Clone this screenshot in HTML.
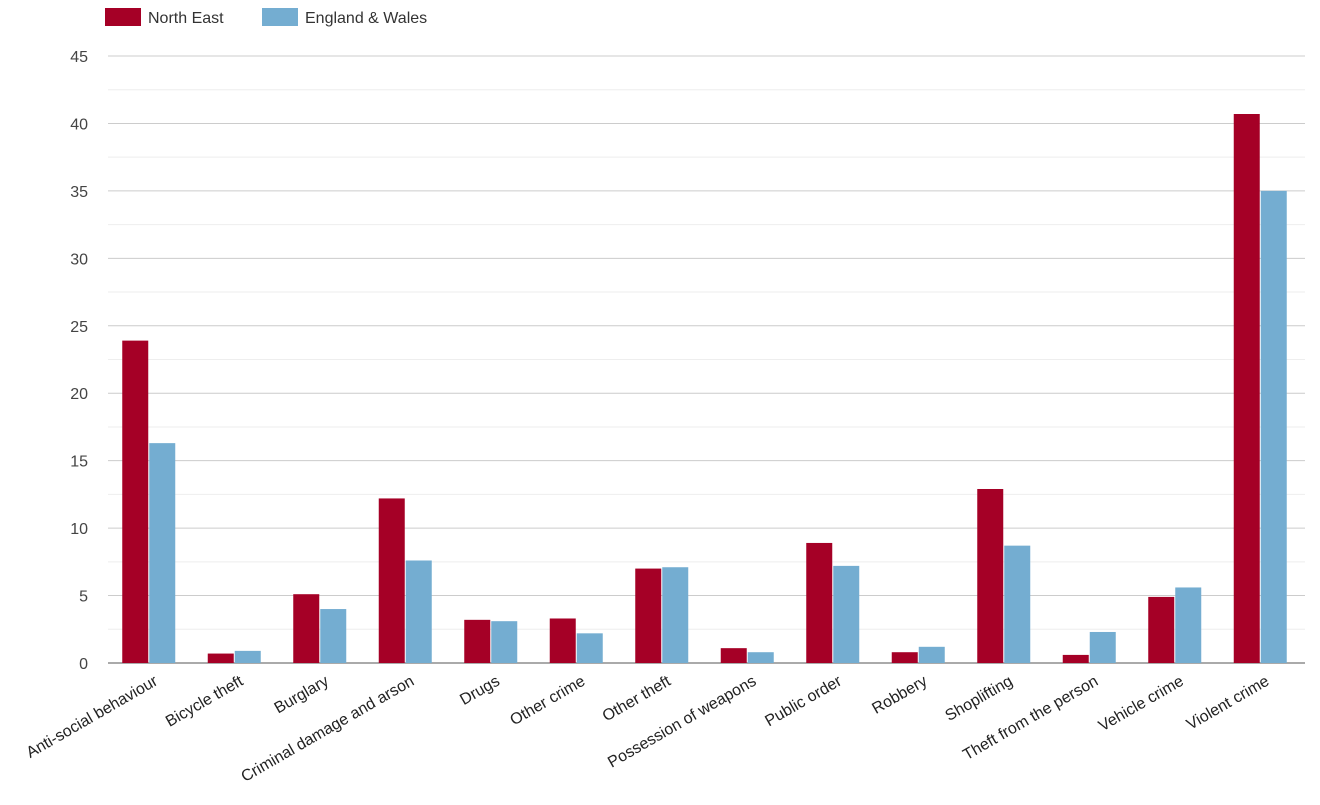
<!DOCTYPE html>
<html><head><meta charset="utf-8"><style>
body{margin:0;background:#fff;font-family:"Liberation Sans",sans-serif}
</style></head><body>
<svg id="chart" width="1320" height="800" xmlns="http://www.w3.org/2000/svg">
<g>
<rect x="105" y="8" width="36" height="18" fill="#a50026"/>
<text x="148" y="23" font-size="16" fill="#333">North East</text>
<rect x="262" y="8" width="36" height="18" fill="#74add1"/>
<text x="305" y="23" font-size="16" fill="#333">England &amp; Wales</text>
</g>
<g id="grid"></g><g id="bars"></g><g id="labels"></g>
</svg>
<script>
const categories=["Anti-social behaviour","Bicycle theft","Burglary","Criminal damage and arson","Drugs","Other crime","Other theft","Possession of weapons","Public order","Robbery","Shoplifting","Theft from the person","Vehicle crime","Violent crime"];
const northEast=[23.9,0.7,5.1,12.2,3.2,3.3,7.0,1.1,8.9,0.8,12.9,0.6,4.9,40.7];
const englandWales=[16.3,0.9,4.0,7.6,3.1,2.2,7.1,0.8,7.2,1.2,8.7,2.3,5.6,35.0];
const yTicks=[0,5,10,15,20,25,30,35,40,45];
const X0=108,X1=1305,Y0=663,Y1=56,YMAX=45;
const NS="http://www.w3.org/2000/svg";
const y=v=>Y0-(v/YMAX)*(Y0-Y1);
const slot=(X1-X0)/categories.length;
const xc=i=>X0+slot*(i+0.5);
function mk(tag,attrs,parent){const e=document.createElementNS(NS,tag);for(const k in attrs)e.setAttribute(k,attrs[k]);parent.appendChild(e);return e;}
const grid=document.getElementById('grid'),bars=document.getElementById('bars'),labels=document.getElementById('labels');
for(let v=2.5;v<YMAX;v+=5){const l=mk('line',{x1:X0,x2:X1,y1:y(v),y2:y(v),stroke:'#eeeeee'},grid);

}
yTicks.forEach(t=>{
 const l=mk('line',{x1:X0,x2:X1,y1:y(t),y2:y(t),stroke:t===0?'#555':'#cccccc'},grid);
 
 
 const tx=mk('text',{x:88,y:y(t)+6,'text-anchor':'end','font-size':16,fill:'#444'},grid);
 tx.textContent=t;
 
 
});
const bw=26;
categories.forEach((c,i)=>{
 const cx=xc(i)-2;
 const r1=mk('rect',{x:cx-bw-0.5,y:y(northEast[i]),width:bw,height:Y0-y(northEast[i]),fill:'#a50026'},bars);
 
 
 const r2=mk('rect',{x:cx+0.5,y:y(englandWales[i]),width:bw,height:Y0-y(englandWales[i]),fill:'#74add1'},bars);
 
 
 const tx=mk('text',{x:cx+10,y:684,'text-anchor':'end','font-size':16,fill:'#222',transform:`rotate(-30 ${cx+10} 684)`},labels);
 tx.textContent=c;
 
 
});
</script>
</body></html>
